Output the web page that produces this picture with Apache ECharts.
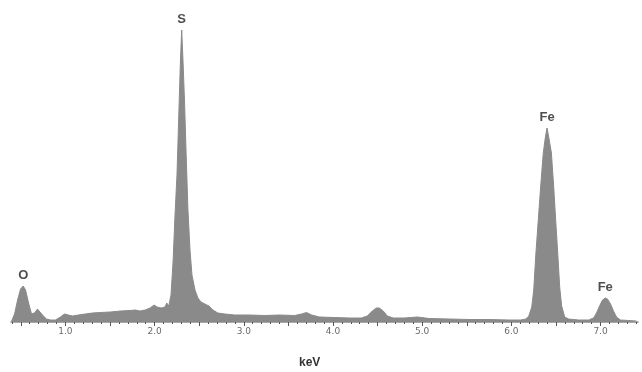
<!DOCTYPE html>
<html>
<head>
<meta charset="utf-8">
<script src="https://cdn.jsdelivr.net/npm/echarts@6/dist/echarts.min.js"></script>
<style>
  html, body { margin: 0; padding: 0; background: #fff; }
  #chart { width: 642px; height: 372px; }
</style>
</head>
<body>
<div id="chart"></div>
<script>
// EDS spectrum: photon energy (keV) against counts (arbitrary units)
const energy = [
  0.397, 0.430, 0.464, 0.497, 0.527, 0.553, 0.587, 0.620, 0.654, 0.687,
  0.709, 0.743, 0.788, 0.832, 0.888, 0.944, 0.989, 1.034, 1.078, 1.145,
  1.223, 1.302, 1.391, 1.503, 1.615, 1.726, 1.782, 1.838, 1.894, 1.950,
  1.994, 2.028, 2.073, 2.117, 2.136, 2.159, 2.184, 2.207, 2.229, 2.251,
  2.273, 2.290, 2.304, 2.318, 2.335, 2.352, 2.374, 2.397, 2.419, 2.453,
  2.486, 2.520, 2.564, 2.609, 2.654, 2.709, 2.788, 2.899, 3.067, 3.235,
  3.402, 3.570, 3.648, 3.704, 3.760, 3.849, 4.017, 4.184, 4.318, 4.385,
  4.441, 4.486, 4.520, 4.564, 4.609, 4.676, 4.799, 4.944, 5.078, 5.302,
  5.525, 5.749, 5.972, 6.106, 6.162, 6.196, 6.229, 6.251, 6.274, 6.302,
  6.330, 6.358, 6.382, 6.400, 6.419, 6.449, 6.475, 6.497, 6.520, 6.542,
  6.564, 6.598, 6.642, 6.754, 6.866, 6.922, 6.955, 6.989, 7.022, 7.053,
  7.078, 7.112, 7.145, 7.179, 7.223, 7.313, 7.402
];
const counts = [
  1, 8, 22, 33, 36, 32, 19, 8, 9, 13,
  12, 7, 3, 2, 2, 5, 8, 7, 6, 7,
  8, 9, 9.5, 10, 11, 11.5, 12, 11, 12, 14,
  17, 15, 14, 15, 19, 16, 27, 60, 107, 147,
  212, 262, 292, 262, 222, 172, 112, 72, 47, 32,
  24, 20, 18, 16, 12, 9, 8, 7, 7, 6.5,
  7, 6.5, 8, 9.5, 7, 5, 4.5, 4, 4, 6,
  11, 14, 14, 11, 6, 4, 4, 5, 3.5, 3,
  2.5, 2.5, 2, 2, 3, 6, 15, 32, 67, 102,
  137, 169, 185, 194, 185, 169, 135, 102, 69, 35,
  16, 5, 3, 2, 2, 4, 9, 16, 22, 24,
  23, 18, 11, 5, 2, 1.5, 1
];

// Element lines marked above their peaks
const peakNames = ['O', 'S', 'Fe', 'Fe'];
const peakEnergy = [0.527, 2.304, 6.400, 7.053];

// Axis ticks
const labelTicks = [1.0, 2.0, 3.0, 4.0, 5.0, 6.0, 7.0];
const majorTicks = [0.5, 1.0, 1.5, 2.0, 2.5, 3.0, 3.5, 4.0, 4.5, 5.0, 5.5, 6.0, 6.5, 7.0];
const minorTicks = [];
for (let i = 4; i <= 74; i++) minorTicks.push(i / 10);

const xMin = 0.39, xMax = 7.42;

const spectrum = energy.map((e, i) => [e, counts[i]]);
const peaks = peakEnergy.map((e, i) => ({
  value: [e, counts[energy.indexOf(e)]],
  name: peakNames[i]
}));

const chart = echarts.init(document.getElementById('chart'), null, { renderer: 'canvas' });
chart.setOption({
  animation: false,
  backgroundColor: '#ffffff',
  grid: { left: 11, right: 4, top: 22, bottom: 50 },
  xAxis: [
    {
      type: 'value', min: xMin, max: xMax,
      axisLine: { show: true, lineStyle: { color: '#8a8a8a', width: 1.5 } },
      axisTick: { show: true, customValues: majorTicks, length: 4, lineStyle: { color: '#555', width: 1 } },
      axisLabel: {
        customValues: labelTicks, margin: 5,
        formatter: v => v.toFixed(1),
        fontSize: 9, color: '#6a6a6a', fontFamily: 'DejaVu Sans'
      },
      splitLine: { show: false }
    },
    {
      type: 'value', min: xMin, max: xMax, position: 'bottom',
      axisLine: { show: false },
      axisTick: { show: true, customValues: minorTicks, length: 2, lineStyle: { color: '#555', width: 1 } },
      axisLabel: { show: false },
      splitLine: { show: false }
    }
  ],
  yAxis: { type: 'value', min: 0, max: 300, show: false },
  series: [
    {
      type: 'line',
      data: spectrum,
      symbol: 'none',
      lineStyle: { color: '#8a8a8a', width: 1 },
      areaStyle: { color: '#8a8a8a', opacity: 1 },
      z: 2
    },
    {
      type: 'scatter',
      data: peaks,
      symbolSize: 0,
      label: {
        show: true, position: 'top', distance: 4,
        formatter: p => p.name,
        fontSize: 13, fontWeight: 'bold', color: '#222',
        fontFamily: 'Liberation Sans'
      },
      z: 3
    }
  ],
  graphic: [
    {
      type: 'text', left: 299, top: 357,
      style: { text: 'keV', fontSize: 12, fontWeight: 'bold', fill: '#333', fontFamily: 'Liberation Sans' }
    }
  ]
});
</script>
</body>
</html>
